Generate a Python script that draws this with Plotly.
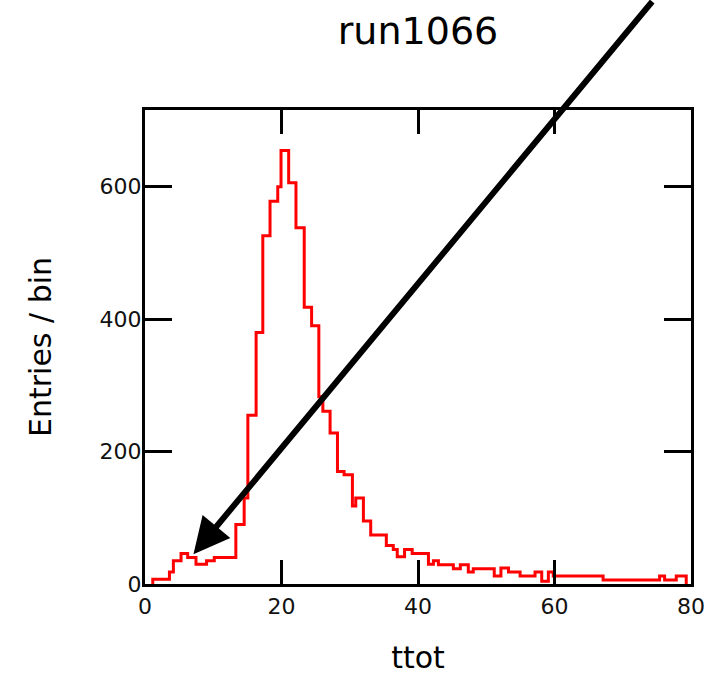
import plotly.graph_objects as go

# Histogram step edges (ttot) and counts
bin_edges = [1.14, 3.58, 4.16, 5.28, 6.25, 7.47, 9.02, 10.15, 13.31, 14.53,
             15.07, 16.28, 17.26, 18.32, 19.45, 19.93, 21.05, 22.12, 23.33, 24.41,
             25.47, 26.06, 27.12, 28.20, 29.17, 30.39, 30.88, 32.00, 33.07, 35.36,
             36.38, 36.96, 38.03, 39.15, 41.53, 42.26, 42.99, 45.18, 46.20, 47.37,
             48.10, 51.17, 52.15, 53.26, 54.96, 57.15, 58.13, 59.10, 59.82, 67.12,
             75.40, 76.13, 77.84, 79.30]
counts = [7, 18, 35, 46, 40, 30, 35, 40, 90, 130,
          255, 380, 526, 578, 600, 655, 606, 538, 418, 390,
          283, 261, 228, 170, 165, 118, 130, 95, 74, 58,
          52, 41, 52, 46, 30, 35, 29, 23, 29, 18,
          23, 12, 24, 18, 12, 18, 4, 18, 12, 6,
          12, 6, 12]

x_ticks = [0, 20, 40, 60, 80]
y_ticks = [0, 200, 400, 600]
x_range = [0, 80]
y_range = [0, 716]
title_text = "run1066"
x_title = "ttot"
y_title = "Entries / bin"
arrow_tip_x = 7.1
arrow_tip_y = 45

xs = [bin_edges[0]] + bin_edges[:-1] + [bin_edges[-1], bin_edges[-1]]
ys = [0] + counts + [counts[-1], 0]

FONT = "DejaVu Sans"

fig = go.Figure()
fig.add_trace(go.Scatter(x=xs, y=ys, mode="lines", line=dict(color="#ff0000", width=3, shape="hv"),
                         hoverinfo="skip"))

fig.update_layout(
    width=710, height=675,
    margin=dict(l=145, r=19, t=110, b=91),
    paper_bgcolor="white", plot_bgcolor="white",
    showlegend=False,
    font=dict(family=FONT, color="black"),
    title=dict(text=title_text, x=0.5, xref="paper", xanchor="center",
               y=1 - 31 / 675, yref="container", yanchor="middle",
               font=dict(family=FONT, size=38, color="black")),
)

axis_common = dict(ticks="inside", tickwidth=3, tickcolor="black", showline=True, linewidth=3,
                   linecolor="black", mirror="ticks", showgrid=False, zeroline=False,
                   automargin=False, tickfont=dict(family=FONT, size=22, color="#111111"))

fig.update_xaxes(range=x_range, tickvals=x_ticks, ticktext=[str(v) for v in x_ticks], ticklen=24,
                 ticklabelstandoff=1,
                 title=dict(text=x_title, font=dict(family=FONT, size=30, color="black"), standoff=52),
                 **axis_common)
fig.update_yaxes(range=y_range, tickvals=y_ticks, ticktext=[str(v) for v in y_ticks], ticklen=27,
                 ticklabelstandoff=-4,
                 title=dict(text=y_title, font=dict(family=FONT, size=30, color="black"), standoff=40),
                 **axis_common)

fig.add_annotation(x=arrow_tip_x, y=arrow_tip_y, xref="x", yref="y", text="", showarrow=True,
                   arrowhead=2, arrowsize=1.2, arrowwidth=6, arrowcolor="black",
                   ax=460, ay=-570, axref="pixel", ayref="pixel")

fig.write_html("out.html", config={"displayModeBar": False},
               post_script="document.body.style.margin='0';")
